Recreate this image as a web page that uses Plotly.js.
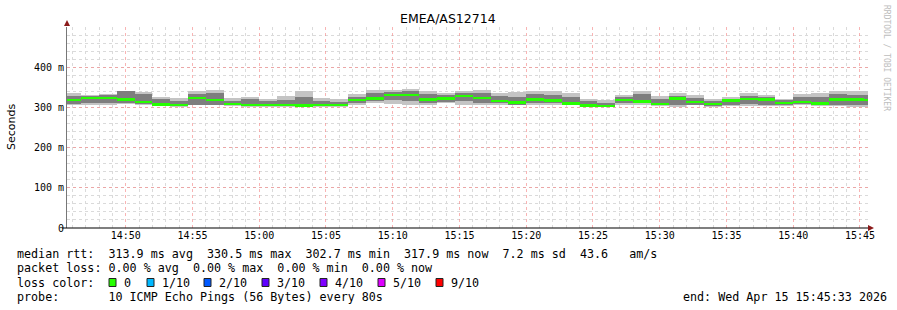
<!DOCTYPE html>
<html>
<head>
<meta charset="utf-8">
<script src="https://cdn.plot.ly/plotly-3.0.1.min.js"></script>
<style>html,body{margin:0;padding:0;background:#fff;}#chart{width:897px;height:310px;}</style>
</head>
<body>
<div id="chart"></div>
<script>
// ---- data, one value per 80 s probe step ----
const stepDate = '2026-04-15';
const firstStepCenter = '14:46:00';
const stepSeconds = 80;
const medianRtt = [317.9,322.9,322.9,319.6,313.0,307.2,305.5,322.9,317.9,308.0,
  306.3,306.3,306.3,304.7,306.3,305.5,318.8,322.1,330.3,330.3,
  319.6,322.1,327.9,322.9,316.3,312.1,319.6,317.1,309.7,304.7,
  303.0,317.9,314.6,308.8,322.1,313.0,308.8,317.1,321.2,319.6,
  311.3,313.8,309.7,319.6,319.6,317.9];
const smokeMax = [335.3,332.0,333.7,341.9,338.6,327.0,323.7,340.3,343.6,323.7,
  327.0,322.1,328.7,341.9,323.7,320.4,333.7,343.6,343.6,345.3,
  340.3,337.0,341.9,343.6,335.3,338.6,340.3,340.3,337.0,322.1,
  318.8,330.3,341.9,328.7,335.3,332.0,322.1,325.4,335.3,332.0,
  322.1,333.7,337.0,340.3,340.3,340.3];
const smokeMin = [305.5,307.2,305.5,308.8,307.2,303.9,302.2,305.5,305.5,303.9,
  302.2,302.2,302.2,302.2,302.2,302.2,307.2,310.5,308.8,307.2,
  305.5,310.5,307.2,305.5,305.5,305.5,305.5,307.2,305.5,302.2,
  300.5,307.2,305.5,303.9,302.2,305.5,302.2,303.9,303.9,303.9,
  303.9,305.5,303.9,303.9,302.2,302.2];
const smokeInnerHi = [328.7,328.7,330.3,340.3,333.7,320.4,317.1,333.7,337.0,317.1,
  320.4,317.1,318.8,325.4,317.1,313.8,327.0,337.0,338.6,340.3,
  333.7,332.0,337.0,335.3,328.7,325.4,333.7,332.0,325.4,315.4,
  312.1,325.4,333.7,320.4,328.7,323.7,315.4,322.1,328.7,325.4,
  318.8,325.4,325.4,333.7,332.0,332.0];
const smokeInnerLo = [308.8,310.5,312.1,312.1,308.8,305.5,303.9,307.2,307.2,305.5,
  303.9,303.9,303.9,303.9,303.9,303.9,310.5,315.4,318.8,317.1,
  310.5,313.8,315.4,312.1,310.5,307.2,312.1,310.5,307.2,303.9,
  302.2,310.5,310.5,305.5,305.5,307.2,303.9,307.2,308.8,307.2,
  305.5,308.8,305.5,307.2,307.2,307.2];
const yTickVals = [0,100,200,300,400];
const yTickText = ['0','100 m','200 m','300 m','400 m'];
const lossLabels = ['0','1/10','2/10','3/10','4/10','5/10','9/10'];
const lossColors = ['#26ff00','#00b8ff','#0059ff','#5e00ff','#7e00ff','#dd00ff','#ff0000'];
const statLines = [
  'median rtt:  313.9 ms avg  330.5 ms max  302.7 ms min  317.9 ms now  7.2 ms sd  43.6   am/s',
  'packet loss: 0.00 % avg  0.00 % max  0.00 % min  0.00 % now',
  'loss color:',
  'probe:       10 ICMP Echo Pings (56 Bytes) every 80s'
];
const endText = 'end: Wed Apr 15 15:45:33 2026';
const titleText = 'EMEA/AS12714';

// ---- derived x categories (step centre times) ----
function pad(n){return (n<10?'0':'')+n;}
const [h0,m0,s0] = firstStepCenter.split(':').map(Number);
const stepTimes = medianRtt.map((_,i)=>{
  let t = h0*3600+m0*60+s0+i*stepSeconds;
  return stepDate+' '+pad(Math.floor(t/3600))+':'+pad(Math.floor(t%3600/60))+':'+pad(t%60);
});
const W = stepSeconds*1000;

// ---- geometry ----
const L=67, R=868, T=27, B=228;
const px = x => (x-L)/(R-L);
const py = y => (B-y)/(B-T);

const traces = [
  {type:'bar', x:stepTimes, base:smokeMin, y:smokeMax.map((v,i)=>v-smokeMin[i]),
   width:W, marker:{color:'#c4c4c4', line:{width:0}}, hoverinfo:'skip'},
  {type:'bar', x:stepTimes, base:smokeInnerLo, y:smokeInnerHi.map((v,i)=>v-smokeInnerLo[i]),
   width:W, marker:{color:'#7e7e7e', line:{width:0}}, hoverinfo:'skip'},
  {type:'bar', x:stepTimes, base:medianRtt.map(v=>v-2.6), y:medianRtt.map(()=>5.2),
   width:W, marker:{color:lossColors[0], line:{width:0}}, hoverinfo:'skip'}
];

const mono = 'DejaVu Sans Mono';
const annotations = [];
const lineY = [254, 268, 282.5, 296.5];
statLines.forEach((t,i)=>annotations.push({xref:'paper',yref:'paper',x:px(15),y:py(lineY[i]),
  xanchor:'left',yanchor:'middle',showarrow:false,text:t.replace(/ /g,'\u00a0'),
  font:{family:mono,size:11.7,color:'#000'}}));
annotations.push({xref:'paper',yref:'paper',x:px(889),y:py(lineY[3]),xanchor:'right',yanchor:'middle',
  showarrow:false,text:endText.replace(/ /g,'\u00a0'),font:{family:mono,size:11.7,color:'#000'}});
const sqX = [109,147,204,262,320,378,436];
const shapes = [];
lossLabels.forEach((t,i)=>{
  annotations.push({xref:'paper',yref:'paper',x:px(sqX[i]+13),y:py(lineY[2]),xanchor:'left',yanchor:'middle',
    showarrow:false,text:t,font:{family:mono,size:11.7,color:'#000'}});
  shapes.push({type:'rect',xref:'paper',yref:'paper',x0:px(sqX[i]),x1:px(sqX[i]+7),
    y0:py(lineY[2]+4),y1:py(lineY[2]-4),fillcolor:lossColors[i],line:{color:'#222',width:1}});
});
annotations.push({xref:'paper',yref:'paper',x:px(886),y:py(58),xanchor:'center',yanchor:'middle',
  showarrow:false,text:'RRDTOOL / TOBI OETIKER',textangle:90,font:{family:mono,size:8,color:'#bdbdbd'}});
annotations.push({xref:'paper',yref:'paper',x:px(12),y:py(127),xanchor:'center',yanchor:'middle',
  showarrow:false,text:'Seconds',textangle:-90,font:{family:'DejaVu Sans',size:11,color:'#000'}});
annotations.push({xref:'paper',yref:'paper',x:px(448),y:py(19),xanchor:'center',yanchor:'middle',
  showarrow:false,text:titleText,font:{family:'DejaVu Sans',size:12.5,color:'#000'}});

// axis arrows
shapes.push({type:'path',xref:'paper',yref:'paper',
  path:`M ${px(64)} ${py(26)} L ${px(70)} ${py(26)} L ${px(67)} ${py(20)} Z`,
  fillcolor:'#8b1a1a',line:{width:0}});
shapes.push({type:'path',xref:'paper',yref:'paper',
  path:`M ${px(868)} ${py(225)} L ${px(868)} ${py(231)} L ${px(874)} ${py(228)} Z`,
  fillcolor:'#8b1a1a',line:{width:0}});
shapes.push({type:'line',xref:'paper',yref:'paper',x0:px(62),x1:px(868),y0:0,y1:0,
  line:{color:'#000',width:1.2}});

const layout = {
  width:897, height:310,
  margin:{l:L, r:897-R, t:T, b:310-B},
  paper_bgcolor:'#fff', plot_bgcolor:'#fff',
  showlegend:false, barmode:'overlay', bargap:0,
  xaxis:{type:'date', range:['2026-04-15 14:45:36','2026-04-15 15:45:36'],
    tickmode:'linear', tick0:'2026-04-15 14:50:00', dtick:300000, tickformat:'%H:%M',
    showgrid:true, gridcolor:'rgba(245,140,140,0.65)', griddash:'dot', gridwidth:1,
    minor:{dtick:60000, tick0:'2026-04-15 14:50:00', showgrid:true, gridcolor:'#dadada', griddash:'dot', gridwidth:1},
    showline:false, zeroline:false, ticks:'', ticklen:0,
    tickfont:{family:mono,size:10,color:'#000'}, fixedrange:true},
  yaxis:{range:[0,500], tickmode:'array', tickvals:yTickVals, ticktext:yTickText,
    showgrid:true, gridcolor:'rgba(245,140,140,0.65)', griddash:'dot', gridwidth:1,
    minor:{dtick:20, tick0:0, showgrid:true, gridcolor:'#dadada', griddash:'dot', gridwidth:1},
    showline:true, linecolor:'#777', linewidth:1, zeroline:false, ticks:'',
    tickfont:{family:mono,size:10,color:'#000'}, fixedrange:true},
  annotations:annotations, shapes:shapes
};
Plotly.newPlot('chart', traces, layout, {displayModeBar:false, staticPlot:true});
</script>
</body>
</html>
